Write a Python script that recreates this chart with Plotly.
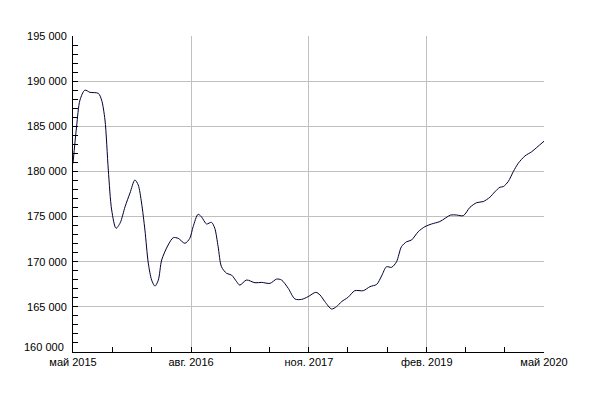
import plotly.graph_objects as go

dates = [
    "2015-05-01", "2015-05-15", "2015-05-28", "2015-06-16", "2015-07-06", "2015-08-07",
    "2015-08-20", "2015-09-02", "2015-09-15", "2015-09-28", "2015-10-15", "2015-10-31",
    "2015-11-19", "2015-12-08", "2015-12-27", "2016-01-09", "2016-01-22", "2016-02-04",
    "2016-02-17", "2016-03-01", "2016-03-14", "2016-03-27", "2016-04-09", "2016-05-04",
    "2016-05-24", "2016-06-12", "2016-07-08", "2016-07-27", "2016-08-09", "2016-08-28",
    "2016-09-10", "2016-09-30", "2016-10-19", "2016-11-01", "2016-11-14", "2016-11-27",
    "2016-12-17", "2017-01-05", "2017-01-25", "2017-02-06", "2017-03-04", "2017-04-06",
    "2017-05-02", "2017-06-03", "2017-06-29", "2017-07-18", "2017-08-13", "2017-09-08",
    "2017-10-04", "2017-10-29", "2017-11-28", "2017-12-14", "2018-01-02", "2018-01-28",
    "2018-02-16", "2018-03-08", "2018-04-02", "2018-04-28", "2018-05-31", "2018-06-26",
    "2018-07-22", "2018-08-10", "2018-08-29", "2018-09-18", "2018-10-07", "2018-10-26",
    "2018-11-15", "2018-12-04", "2018-12-30", "2019-01-25", "2019-02-20", "2019-03-24",
    "2019-05-05", "2019-05-28", "2019-06-23", "2019-07-19", "2019-08-14", "2019-09-08",
    "2019-10-04", "2019-10-23", "2019-11-12", "2019-11-25", "2019-12-14", "2020-01-03",
    "2020-01-22", "2020-02-17", "2020-03-14", "2020-04-02", "2020-05-01",
]
values = [
    180900, 185000, 187900, 189000, 188760, 188650,
    187900, 185700, 180150, 175730, 173700, 174300,
    176100, 177600, 179050, 178500, 176500, 173500,
    169850, 167970, 167300, 167970, 170190, 171850,
    172660, 172590, 172040, 172590, 173880, 175250,
    174990, 174180, 174360, 173700, 171660, 169440,
    168710, 168520, 167780, 167410, 167970, 167670,
    167710, 167600, 168080, 167970, 167050, 165870,
    165830, 166130, 166610, 166320, 165580, 164760,
    165020, 165580, 166060, 166790, 166790, 167240,
    167490, 168420, 169440, 169380, 170000, 171660,
    172210, 172400, 173320, 173880, 174180, 174450,
    175170, 175170, 175100, 176030, 176540, 176660,
    177140, 177730, 178250, 178320, 178870, 179980,
    180900, 181710, 182180, 182630, 183350,
]

x_tick_vals = ["2015-05-01", "2016-08-01", "2017-11-01", "2019-02-01", "2020-05-01"]
x_tick_text = ["май 2015", "авг. 2016", "ноя. 2017", "фев. 2019", "май 2020"]
x_minor_vals = ["2015-10-01", "2016-03-01", "2017-01-01", "2017-06-01",
                "2018-04-01", "2018-09-01", "2019-07-01", "2019-12-01"]
y_tick_vals = [165000, 170000, 175000, 180000, 185000, 190000, 195000]
y_tick_text = ["165 000", "170 000", "175 000", "180 000", "185 000", "190 000", "195 000"]
y_bottom_val = 160000
y_bottom_text = "160 000"

fig = go.Figure()
fig.add_trace(go.Scatter(
    x=dates, y=values, mode="lines",
    line=dict(color="#000033", width=1, shape="spline", smoothing=0.8),
    hoverinfo="skip",
))

fig.add_annotation(
    xref="paper", yref="y", x=0, y=y_bottom_val, text=y_bottom_text,
    showarrow=False, xanchor="right", yanchor="middle", xshift=-7, yshift=5,
    font=dict(family="Liberation Sans, Arial, sans-serif", size=11, color="black"),
)

fig.update_layout(
    width=601, height=393,
    margin=dict(l=65, r=65, t=28, b=49),
    paper_bgcolor="white", plot_bgcolor="white",
    showlegend=False,
    font=dict(family="Liberation Sans, Arial, sans-serif", size=11, color="black"),
)
fig.update_xaxes(
    type="date",
    range=["2015-05-01", "2020-05-01"],
    tickmode="array", tickvals=x_tick_vals, ticktext=x_tick_text,
    ticks="inside", ticklen=5, tickcolor="black",
    showgrid=True, gridcolor="#c0c0c0", gridwidth=1,
    showline=True, linecolor="black", linewidth=1,
    zeroline=False,
    minor=dict(tickmode="array", tickvals=x_minor_vals, ticks="inside",
               ticklen=5, tickcolor="black", showgrid=False),
)
fig.update_yaxes(
    range=[160000, 195000],
    tickmode="array", tickvals=y_tick_vals, ticktext=y_tick_text,
    ticklabelstandoff=3,
    ticks="inside", ticklen=5, tickcolor="black",
    showgrid=True, gridcolor="#c0c0c0", gridwidth=1,
    showline=True, linecolor="black", linewidth=1,
    zeroline=False,
    minor=dict(tickmode="linear", tick0=160000, dtick=1000, ticks="inside",
               ticklen=5, tickcolor="black", showgrid=False),
)

fig.write_html("out.html")
